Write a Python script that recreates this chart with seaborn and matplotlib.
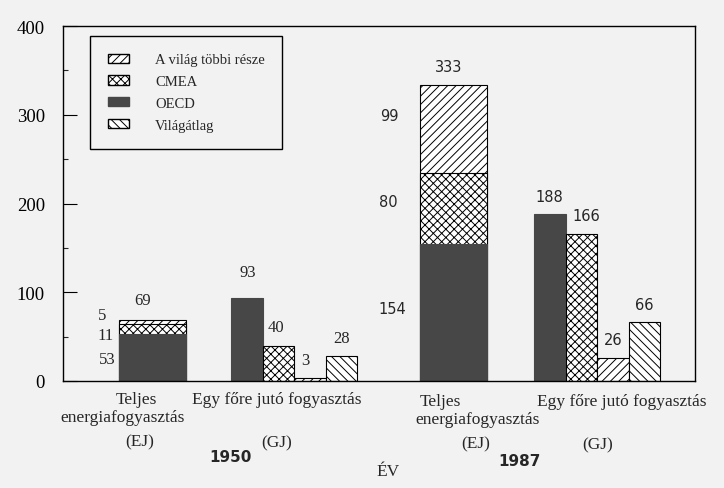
import pandas as pd
import numpy as np
import matplotlib.pyplot as plt
import seaborn as sns
from matplotlib.patches import Patch

# Data
years = ['1950', '1987']
regions = ['OECD', 'CMEA', 'A világ többi része', 'Világátlag']

# Teljes energiafogyasztás (EJ), stacked
total_oecd = [53, 154]
total_cmea = [11, 80]
total_rest = [5, 99]
total_sum = [69, 333]

# Egy főre jutó fogyasztás (GJ)
percap_oecd = [93, 188]
percap_cmea = [40, 166]
percap_rest = [3, 26]
percap_world = [28, 66]

# Layout: group centres along the x axis (axis spans 0..632) and bar widths
total_pos = [89, 390]
percap_pos = [231, 534]
total_width = 67
percap_width = 126

# Styling
sns.set_style('white')
plt.rcParams['font.family'] = ['Liberation Serif', 'DejaVu Serif']
plt.rcParams['hatch.linewidth'] = 0.7
bg = '#f2f2f2'
dark = '#474747'
serif = ['Liberation Serif', 'DejaVu Serif']
sans = ['DejaVu Sans']

W, H = 724, 489
fig = plt.figure(figsize=(W / 100, H / 100), dpi=100, facecolor=bg)
ax = fig.add_axes([63 / W, 1 - 382 / H, 632 / W, 355 / H], facecolor=bg)

# Stacked totals: draw cumulative tops first, then overlay lower parts
tot = pd.DataFrame({'pos': total_pos, 'oecd': total_oecd, 'cmea': total_cmea, 'rest': total_rest})
tot['top_rest'] = tot['oecd'] + tot['cmea'] + tot['rest']
tot['top_cmea'] = tot['oecd'] + tot['cmea']

w_tot = total_width / np.diff(total_pos)[0]
common = dict(native_scale=True, saturation=1, errorbar=None, ax=ax)
sns.barplot(data=tot, x='pos', y='top_rest', width=w_tot, color='white',
            edgecolor='black', linewidth=0.8, hatch='////', **common)
sns.barplot(data=tot, x='pos', y='top_cmea', width=w_tot, color='white',
            edgecolor='black', linewidth=0.8, hatch='xxxx', **common)
sns.barplot(data=tot, x='pos', y='oecd', width=w_tot, color=dark,
            edgecolor=dark, linewidth=0.8, **common)

# Per-capita grouped bars
pc = pd.DataFrame({
    'pos': percap_pos * 4,
    'region': np.repeat(regions, 2),
    'value': percap_oecd + percap_cmea + percap_rest + percap_world,
})
fills = {'OECD': dark, 'CMEA': 'white', 'A világ többi része': 'white', 'Világátlag': 'white'}
hatches = {'OECD': '', 'CMEA': 'xxxx', 'A világ többi része': '////', 'Világátlag': '\\\\\\\\'}
w_pc = percap_width / np.diff(percap_pos)[0]
sns.barplot(data=pc, x='pos', y='value', hue='region', hue_order=regions, palette=fills,
            width=w_pc, edgecolor='black', linewidth=0.8, legend=False, **common)
for reg, cont in zip(regions, ax.containers[-4:]):
    for p in cont:
        p.set_hatch(hatches[reg])
        if reg == 'OECD':
            p.set_edgecolor(dark)

ax.set_xlim(0, 632)
ax.set_ylim(0, 400)
ax.set_xticks([])
ax.set_xlabel('')
ax.set_ylabel('')
ax.set_yticks([0, 100, 200, 300, 400])
ax.set_yticks([50, 150, 250, 350], minor=True)
ax.tick_params(axis='y', which='major', left=True, direction='in', length=10, width=0.8,
               pad=13, labelsize=13.5, colors='black')
ax.tick_params(axis='y', which='minor', left=True, direction='in', length=3.5, width=0.8)
for s in ax.spines.values():
    s.set_visible(True)
    s.set_color('black')
    s.set_linewidth(1.0)

# Value labels above per-capita bars (small horizontal nudges as in the original)
nudge = {('OECD', 0): (1, 19), ('CMEA', 0): (-2, 13), ('A világ többi része', 0): (-3, 13),
         ('CMEA', 1): (4, 13)}
for reg, cont in zip(regions, ax.containers[-4:]):
    for i, p in enumerate(cont):
        cx = p.get_x() + p.get_width() / 2
        h = p.get_height()
        fam = serif if i == 0 else sans
        size = 12 if i == 0 else 10.5
        dx, dy = nudge.get((reg, i), (0, 13))
        ax.annotate(f'{h:g}', xy=(cx, h), xytext=(dx, dy), textcoords='offset points',
                    ha='center', va='center', family=fam, fontsize=size)

# Labels on stacked bars
stack_patches = ax.containers[0]
for i, p in enumerate(stack_patches):
    cx = p.get_x() + p.get_width() / 2
    fam = serif if i == 0 else sans
    size = 12 if i == 0 else 10.5
    dx_top = -7 if i == 0 else -3
    ax.annotate(str(total_sum[i]), xy=(cx, total_sum[i]), xytext=(dx_top, 14),
                textcoords='offset points', ha='center', va='center', family=fam, fontsize=size)

seg_pos_1950 = [(107, 360), (106, 336), (102, 316)]
seg_pos_1987 = [(392, 309), (388, 203), (389, 117)]
for vals, pos, fam, size in [
        ([total_oecd[0], total_cmea[0], total_rest[0]], seg_pos_1950, serif, 12),
        ([total_oecd[1], total_cmea[1], total_rest[1]], seg_pos_1987, sans, 10.5)]:
    for v, (x, y) in zip(vals, pos):
        fig.text(x / W, 1 - y / H, str(v), ha='center', va='center', family=fam, fontsize=size)

# Category labels under the bars
cat_labels = [
    ('Teljes', 136, 400), ('energiafogyasztás', 123, 418), ('(EJ)', 140, 442),
    ('Egy főre jutó fogyasztás', 277, 400), ('(GJ)', 277, 443),
    ('Teljes', 440, 402), ('energiafogyasztás', 478, 420), ('(EJ)', 476, 444),
    ('Egy főre jutó fogyasztás', 622, 402), ('(GJ)', 598, 445),
    ('ÉV', 388, 472),
]
for txt, x, y in cat_labels:
    fig.text(x / W, 1 - y / H, txt, ha='center', va='center', family=serif, fontsize=12.5)

for yr, x, y in zip(years, [230, 520], [458, 462]):
    fig.text(x / W, 1 - y / H, yr, ha='center', va='center', family=sans,
             fontsize=11, fontweight='bold')

# Legend
handles = [
    Patch(facecolor='white', edgecolor='black', hatch='////', label='A világ többi része'),
    Patch(facecolor='white', edgecolor='black', hatch='xxxx', label='CMEA'),
    Patch(facecolor=dark, edgecolor=dark, label='OECD'),
    Patch(facecolor='white', edgecolor='black', hatch='\\\\\\\\', label='Világátlag'),
]
leg = ax.legend(handles=handles, loc='upper left', bbox_to_anchor=(0.043, 0.972),
                borderaxespad=0, prop={'family': serif, 'size': 10.5}, handlelength=1.45,
                handleheight=0.6, handletextpad=1.8, labelspacing=0.6, borderpad=1.2,
                fancybox=False, framealpha=1, facecolor=bg, edgecolor='black')
leg.get_frame().set_linewidth(1.0)

fig.savefig('out.png', dpi=100, facecolor=bg)
